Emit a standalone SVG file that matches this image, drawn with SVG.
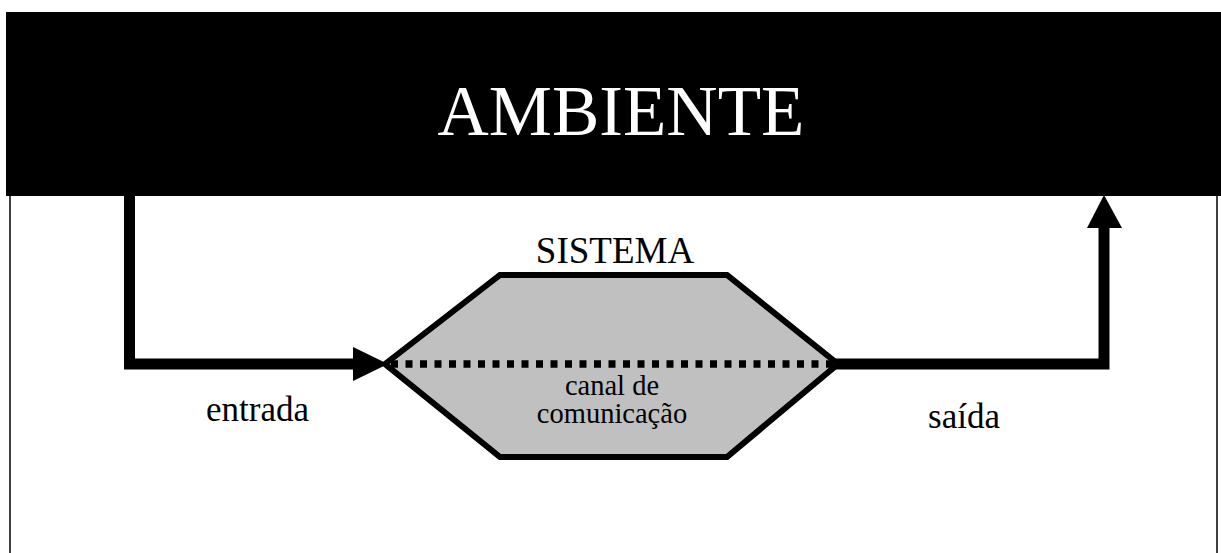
<svg xmlns="http://www.w3.org/2000/svg" width="1221" height="553" viewBox="0 0 1221 553">
<style>
text{font-family:"Liberation Serif","Times New Roman",serif;}
.lbl{font-size:35px;fill:#000;}
.border{stroke:#000;stroke-width:1.5;fill:none;}
.flow{stroke:#000;stroke-width:11;fill:none;stroke-linejoin:miter;}
.head{fill:#000;}
</style>
<rect x="0" y="0" width="1221" height="553" fill="#fff"/>
<g id="ambiente">
<rect x="6" y="12" width="1215" height="184" fill="#000"/>
<line class="border" x1="10" y1="196" x2="10" y2="553"/>
<line class="border" x1="1217" y1="196" x2="1217" y2="553"/>
<text x="621" y="135" font-size="71" fill="#fff" text-anchor="middle">AMBIENTE</text>
</g>
<g id="sistema">
<polygon points="385,364 500,275 727,275 838,364 727,457 500,457" fill="#c0c0c0" stroke="#000" stroke-width="6" stroke-linejoin="miter"/>
<line x1="391" y1="364" x2="838" y2="364" stroke="#000" stroke-width="7.5" stroke-dasharray="7 7.5"/>
<text x="615" y="263" font-size="37" text-anchor="middle">SISTEMA</text>
<text x="612" y="395" font-size="28.5" text-anchor="middle">canal de</text>
<text x="612" y="423" font-size="28.5" text-anchor="middle">comunicação</text>
</g>
<g id="connectors">
<polyline class="flow" points="129.5,196 129.5,364 354,364"/>
<polygon class="head" points="353,347 388,364 353,381"/>
<polyline class="flow" points="836,364 1104,364 1104,227"/>
<polygon class="head" points="1087,228 1104,195 1122,228"/>
</g>
<g id="labels">
<text class="lbl" x="257.5" y="421" text-anchor="middle">entrada</text>
<text class="lbl" x="964" y="428" text-anchor="middle">saída</text>
</g>
</svg>
